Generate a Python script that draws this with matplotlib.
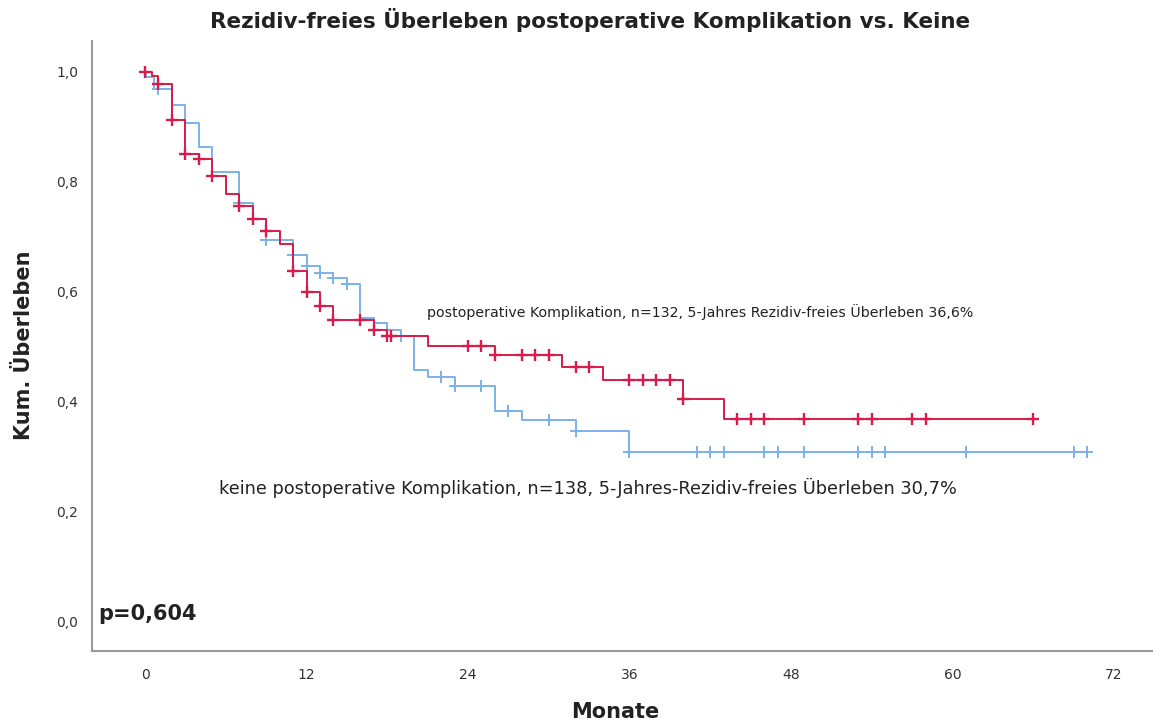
import numpy as np
import matplotlib
matplotlib.use('Agg')
import matplotlib.pyplot as plt

# Kaplan-Meier Stufen (Monate, kum. Ueberleben nach dem Ereignis)
# postoperative Komplikation (n=132)
komp_t = [0, 0.5, 1, 2, 3, 4, 5, 6, 7, 8, 9, 10, 11, 12, 13, 14, 17, 18, 21, 26, 31, 34, 40, 43, 66]
komp_s = [1.0, 0.992, 0.977, 0.913, 0.851, 0.841, 0.811, 0.778, 0.756, 0.732, 0.710, 0.687,
          0.637, 0.599, 0.575, 0.548, 0.531, 0.519, 0.502, 0.485, 0.464, 0.439, 0.405, 0.369, 0.369]
komp_zens = [0, 1, 2, 3, 4, 5, 7, 8, 9, 11, 12, 13, 14, 16, 17, 18, 18.3, 24, 25, 26, 28, 29, 30,
             32, 33, 36, 37, 38, 39, 40, 44, 45, 46, 49, 53, 54, 57, 58, 66]

# keine postoperative Komplikation (n=138)
keine_t = [0, 0.05, 0.7, 2, 3, 4, 5, 7, 8, 9, 11, 12, 13, 14, 15, 16, 17, 18, 19, 20, 21, 23, 26,
           28, 32, 36, 70]
keine_s = [1.0, 0.99, 0.968, 0.94, 0.907, 0.863, 0.817, 0.761, 0.732, 0.695, 0.667, 0.647, 0.635,
           0.625, 0.615, 0.552, 0.543, 0.530, 0.519, 0.458, 0.446, 0.428, 0.384, 0.367, 0.347,
           0.309, 0.309]
keine_zens = [1, 7, 9, 11, 12, 13, 14, 15, 19, 22, 23, 25, 27, 30, 32, 36, 41, 42, 43, 46, 47, 49,
              53, 54, 55, 61, 69, 70]

rot = '#d81b4a'
blau = '#7db1e8'
grau = '#9a9a9a'


def s_at(tt, ss, x):
    idx = np.searchsorted(tt, x, side='right') - 1
    return np.array(ss)[idx]


fig = plt.figure(figsize=(11.53, 7.22), dpi=100)
ax = fig.add_axes([92 / 1153, 1 - 651 / 722, 1 - 92 / 1153, (651 - 41) / 722])

ax.step(keine_t, keine_s, where='post', color=blau, lw=1.4)
ax.plot(keine_zens, s_at(keine_t, keine_s, keine_zens), ls='none', marker='+',
        color=blau, ms=9, mew=1.4)
ax.step(komp_t, komp_s, where='post', color=rot, lw=1.4)
ax.plot(komp_zens, s_at(komp_t, komp_s, komp_zens), ls='none', marker='+',
        color=rot, ms=9, mew=1.7)

ax.set_xlim(-3.94, 74.9)
ax.set_ylim(-0.053, 1.056)
ax.set_xticks(np.arange(0, 73, 12))
ax.set_yticks(np.arange(0, 1.01, 0.2))
ax.set_yticklabels([('%.1f' % v).replace('.', ',') for v in np.arange(0, 1.01, 0.2)])
ax.tick_params(length=0, labelsize=10, labelcolor='#333333', pad=10)
ax.tick_params(axis='x', pad=12)

for sp in ['top', 'right']:
    ax.spines[sp].set_visible(False)
for sp in ['left', 'bottom']:
    ax.spines[sp].set_color(grau)
    ax.spines[sp].set_linewidth(1.5)

ax.text(20.95, 0.5636, 'postoperative Komplikation, n=132, 5-Jahres Rezidiv-freies Überleben 36,6%',
        fontsize=10.2, va='center', color='#222222')
ax.text(5.5, 0.2436, 'keine postoperative Komplikation, n=138, 5-Jahres-Rezidiv-freies Überleben 30,7%',
        fontsize=12.8, va='center', color='#222222')
ax.text(-3.5, 0.015, 'p=0,604', fontsize=15, fontweight='bold', va='center', color='#222222')

fig.text(0.512, 0.972, 'Rezidiv-freies Überleben postoperative Komplikation vs. Keine',
         ha='center', va='center', fontsize=15.5, fontweight='bold', color='#222222')
fig.text(24 / 1153, 1 - 345 / 722, 'Kum. Überleben', rotation=90, ha='center', va='center',
         fontsize=15, fontweight='bold', color='#222222')
fig.text(615 / 1153, 1 - 712 / 722, 'Monate', ha='center', va='center',
         fontsize=15, fontweight='bold', color='#222222')

fig.savefig('out.png', dpi=100)
